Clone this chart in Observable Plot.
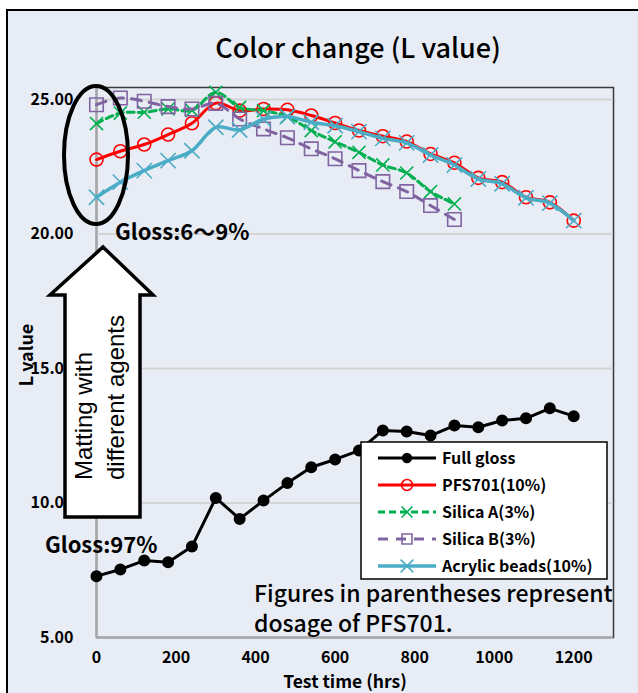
<!DOCTYPE html>
<html><head><meta charset="utf-8">
<script src="https://cdn.jsdelivr.net/npm/d3@7"></script>
<script src="https://cdn.jsdelivr.net/npm/@observablehq/plot@0.6"></script>
<style>
body{margin:0;background:#fff}
svg{display:block}
</style>
</head><body><div id="chart"></div>
<script>
// ---- data ----
const hours = [0,60,120,180,240,300,360,420,480,540,600,660,720,780,840,900,960,1020,1080,1140,1200];
const fullGloss = [7.28,7.53,7.86,7.80,8.38,10.19,9.41,10.09,10.74,11.33,11.62,11.95,12.70,12.66,12.51,12.88,12.82,13.07,13.15,13.52,13.23];
const pfs701   = [22.77,23.08,23.33,23.70,24.12,24.87,24.59,24.65,24.62,24.41,24.13,23.85,23.64,23.44,22.98,22.65,22.09,21.93,21.37,21.18,20.50];
const silicaA  = [24.11,24.50,24.53,24.65,24.60,25.27,24.71,24.59,24.37,23.85,23.43,23.04,22.57,22.27,21.58,21.12];
const silicaB  = [24.81,25.06,24.94,24.74,24.65,24.86,24.28,23.91,23.58,23.17,22.80,22.36,21.95,21.58,21.06,20.54];
const acrylic  = [21.37,21.93,22.36,22.73,23.10,23.97,23.87,24.28,24.37,24.16,24.03,23.81,23.56,23.39,22.94,22.57,22.05,21.87,21.35,21.15,20.50];
const seriesNames = ["Full gloss","PFS701(10%)","Silica A(3%)","Silica B(3%)","Acrylic beads(10%)"];
const yTicks = [5,10,15,20,25];
const xTicks = [0,200,400,600,800,1000,1200];
const titleText = "Color change (L value)";
const xTitle = "Test time (hrs)";
const yTitle = "L value";
const captionLines = ["Figures in parentheses represent","dosage of PFS701."];
const noteTop = "Gloss:6～9%";
const noteBottom = "Gloss:97%";
const arrowLines = ["Matting with","different agents"];

// ---- styles ----
const styles = [
  {color:"#000000", dash:null,   curve:"linear",      symbol:"circle", r:5.2, fill:"#000000", sw:3},
  {color:"#ff0000", dash:null,   curve:"catmull-rom", symbol:"circle", r:6.5, fill:"none",    sw:3},
  {color:"#00b050", dash:"7,4",  curve:"catmull-rom", symbol:"times",  r:6,   fill:"none",    sw:3},
  {color:"#8064a2", dash:"10,8", curve:"catmull-rom", symbol:"square", r:7.6, fill:"none",    sw:3},
  {color:"#4bacc6", dash:null,   curve:"catmull-rom", symbol:"times",  r:7,   fill:"none",    sw:3.5}
];
const seriesValues = [fullGloss,pfs701,silicaA,silicaB,acrylic];
const seriesRows = seriesValues.map((vals,k)=>vals.map((v,i)=>({x:hours[i], y:v, s:seriesNames[k]})));

const font = "'Noto Sans CJK JP', 'Noto Sans', sans-serif";

const marks = [
  Plot.frame({stroke:"#3a3a3a", strokeWidth:1.5}),
  Plot.gridY([10,15,20,25], {stroke:"#d4d4d4", strokeOpacity:1, strokeWidth:2}),
  Plot.ruleX([0], {stroke:"#a6a6a6", strokeWidth:2}),
  Plot.ruleY([5], {stroke:"#a6a6a6", strokeWidth:2}),
  Plot.axisY({ticks:yTicks, tickFormat:d3.format(".2f"), tickSize:0, tickPadding:23, fontSize:16, fontWeight:"bold", label:null, fill:"#000"}),
  Plot.axisX({ticks:xTicks, tickFormat:d => String(d), tickSize:0, tickPadding:14, fontSize:16, fontWeight:"bold", label:null, fill:"#000"})
];
seriesRows.forEach((rows,k)=>{
  const st = styles[k];
  marks.push(Plot.line(rows, {x:"x", y:"y", stroke:st.color, strokeWidth:st.sw, strokeDasharray:st.dash, curve:st.curve, strokeLinejoin:"round"}));
  marks.push(Plot.dot(rows, {x:"x", y:"y", symbol:st.symbol, r:st.r, stroke:st.color, fill:st.fill, strokeWidth:1.6}));
});

const chart = Plot.plot({
  width:638, height:693,
  marginLeft:96, marginRight:25, marginTop:87, marginBottom:56,
  x:{domain:[0,1300]},
  y:{domain:[5,25.45]},
  style:{background:"transparent", overflow:"visible", fontFamily:font, color:"#000"},
  marks
});
document.getElementById("chart").appendChild(chart);

const svg = d3.select(chart);
// outer background and border
svg.insert("rect", ":first-child").attr("x",7).attr("y",10).attr("width",700).attr("height",700)
  .attr("fill","#e8ecf4").attr("stroke","#000").attr("stroke-width",2);

const ann = svg.append("g").attr("font-family", font).attr("text-anchor","start");

// title
ann.append("text").attr("x",358).attr("y",58).attr("text-anchor","middle").attr("font-size",27).attr("font-weight",500).text(titleText);
// axis titles
ann.append("text").attr("x",345).attr("y",688).attr("text-anchor","middle").attr("font-size",17.5).attr("font-weight","bold").text(xTitle);
ann.append("text").attr("transform","translate(33,355) rotate(-90)").attr("text-anchor","middle").attr("font-size",18).attr("font-weight","bold").text(yTitle);

// ellipse
ann.append("ellipse").attr("cx",96).attr("cy",155).attr("rx",32).attr("ry",69)
  .attr("fill","none").attr("stroke","#000").attr("stroke-width",4);

// arrow
ann.append("polygon").attr("points","103,247 153,295 140,295 140,517 65,517 65,295 50,295")
  .attr("fill","#fff").attr("stroke","#000").attr("stroke-width",3.5).attr("stroke-linejoin","miter");
arrowLines.forEach((t,i)=>{
  ann.append("text").attr("transform",`translate(${92+32*i},480) rotate(-90)`).attr("text-anchor","start")
    .attr("font-family","'Liberation Sans', Arial, sans-serif").attr("font-size",24).text(t);
});

// notes
ann.append("text").attr("x",115).attr("y",240).attr("text-anchor","start").attr("font-size",22).attr("font-weight","bold").text(noteTop);
ann.append("text").attr("x",45).attr("y",553).attr("text-anchor","start").attr("font-size",22).attr("font-weight","bold").text(noteBottom);

// legend
const lg = ann.append("g");
lg.append("rect").attr("x",361).attr("y",442).attr("width",246).attr("height",137)
  .attr("fill","#fff").attr("stroke","#000").attr("stroke-width",1.5);
const symMap = {circle:d3.symbolCircle, times:d3.symbolTimes, square:d3.symbolSquare2};
seriesNames.forEach((name,k)=>{
  const st = styles[k];
  const yy = 458 + k*27;
  lg.append("line").attr("x1",378).attr("x2",436).attr("y1",yy).attr("y2",yy)
    .attr("stroke",st.color).attr("stroke-width",st.sw).attr("stroke-dasharray",st.dash);
  lg.append("path").attr("transform",`translate(407,${yy})`)
    .attr("d", d3.symbol(symMap[st.symbol], Math.PI*st.r*st.r*0.7)())
    .attr("fill",st.fill==="none"?"none":st.fill).attr("stroke",st.color).attr("stroke-width",1.6);
  lg.append("text").attr("x",442).attr("y",yy).attr("dy","0.35em").attr("text-anchor","start")
    .attr("font-size",16).attr("font-weight","bold").text(name);
});

// caption
captionLines.forEach((t,i)=>{
  ann.append("text").attr("x",254).attr("y",602+30*i).attr("text-anchor","start").attr("font-size",23).attr("font-weight",500).text(t);
});
</script>
</body></html>
